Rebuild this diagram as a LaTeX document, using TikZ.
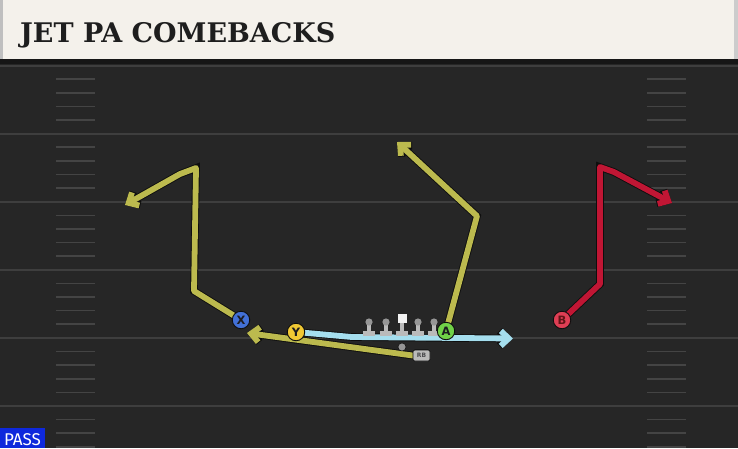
\documentclass[tikz,border=0pt]{standalone}
\usepackage{fontspec}
\newfontfamily\titlefont{DejaVu Serif Bold}
\newfontfamily\labelfont{DejaVu Sans}
\newfontfamily\passfont{Fira Sans}
\usetikzlibrary{arrows.meta}
\definecolor{field}{RGB}{38,38,38}
\definecolor{yardline}{RGB}{62,62,62}
\definecolor{hashc}{RGB}{68,68,68}
\definecolor{headerbg}{RGB}{244,241,235}
\definecolor{headerdark}{RGB}{22,22,22}
\definecolor{titlec}{RGB}{30,30,30}
\definecolor{olive}{RGB}{188,186,78}
\definecolor{routered}{RGB}{192,22,52}
\definecolor{motion}{RGB}{165,222,238}
\definecolor{outl}{RGB}{14,14,14}
\definecolor{xblue}{RGB}{66,112,214}
\definecolor{yyellow}{RGB}{240,200,52}
\definecolor{agreen}{RGB}{112,210,72}
\definecolor{bred}{RGB}{222,62,84}
\definecolor{linec}{RGB}{186,186,186}
\definecolor{headc}{RGB}{150,150,150}
\definecolor{passblue}{RGB}{14,40,220}
\definecolor{dark}{RGB}{28,28,32}
\tikzset{
  rt/.style={preaction={draw=outl, line width=7.6pt}, draw=#1, line width=5.8pt,
    line join=round, line cap=round, -{Straight Barb[length=8pt,width=15pt]}},
  player/.style={circle, draw=outl, line width=0.9pt, fill=#1, minimum size=17.5pt,
    inner sep=0pt, font=\labelfont\bfseries\fontsize{11.5}{11.5}\selectfont, text=dark},
  lineman/.style={fill=linec, draw=none},
  rbbadge/.style={fill=linec, draw=outl, line width=0.6pt, rounded corners=2pt, minimum width=17pt,
    minimum height=11pt, inner sep=0pt, font=\labelfont\bfseries\fontsize{6}{6}\selectfont, text=dark!80},
}
\begin{document}
\begin{tikzpicture}[x=1pt,y=-1pt]
\useasboundingbox (0,0) rectangle (738,448);
\clip (0,0) rectangle (738,448);
\fill[field] (0,0) rectangle (738,448);
% yard lines and hash marks
\foreach \k in {0,...,5}{
  \draw[yardline, line width=2pt] (0,{65.5+68.1*\k}) -- (738,{65.5+68.1*\k});
  \foreach \j in {1,...,4}{
    \draw[hashc, line width=1.6pt] (56,{65.5+68.1*\k+13.62*\j}) -- (95,{65.5+68.1*\k+13.62*\j});
    \draw[hashc, line width=1.6pt] (647,{65.5+68.1*\k+13.62*\j}) -- (686,{65.5+68.1*\k+13.62*\j});
  }
}
% header
\fill[headerbg] (0,0) rectangle (738,59);
\fill[black!25] (0,0) rectangle (3,59);
\fill[black!20] (734,0) rectangle (738,59);
\fill[headerdark] (0,59) rectangle (738,63.5);
\node[anchor=base west, inner sep=0pt, text=titlec,
  font=\titlefont\fontsize{27}{27}\selectfont] (title) at (20,42) {JET PA COMEBACKS};
% coordinates
\coordinate (x1) at (194,291);
\coordinate (x2) at (196,168);
\coordinate (x3) at (180,174);
\coordinate (x4) at (125,205);
\coordinate (a1) at (477,216);
\coordinate (a2) at (397,142);
\coordinate (b1) at (600,284);
\coordinate (b2) at (600,167);
\coordinate (b3) at (614,172);
\coordinate (b4) at (672,203);
\coordinate (m1) at (352,337);
\coordinate (m2) at (513,338.5);
\coordinate (rbend) at (247,333);
% players positions
\path (241,320) coordinate (Xp) (296,332) coordinate (Yp) (446,331) coordinate (Ap) (562,320) coordinate (Bp);
% RB badge
\node[rbbadge] (RB) at (421.5,355.5) {RB};
% routes
\draw[rt=olive] (RB.west) -- (rbend);
\draw[rt=motion] (Yp) -- (m1) -- (m2);
\draw[rt=olive] (Xp) -- (x1) -- (x2) -- (x3) -- (x4);
\draw[rt=olive] (Ap) -- (a1) -- (a2);
\draw[rt=routered] (Bp) -- (b1) -- (b2) -- (b3) -- (b4);
\node[rbbadge] at (RB) {RB};
\node[circle, fill=headc, draw=outl, line width=0.5pt, minimum size=8pt, inner sep=0pt] (QB) at (402,347) {};
% line
\foreach \x in {369,386,418,434}{
  \fill[lineman] (\x-6,331) rectangle (\x+6,335.5);
  \fill[lineman] (\x-1.6,323) rectangle (\x+1.6,331);
  \fill[headc] (\x,322) circle (3.6);
}
\fill[lineman] (396,331) rectangle (408,335.5);
\fill[lineman] (400.4,322) rectangle (403.6,331);
\fill[white!95!black] (397.5,314) rectangle (406.5,323);
% players
\node[player=xblue] (X) at (Xp) {X};
\node[player=yyellow] (Y) at (Yp) {Y};
\node[player=agreen] (A) at (Ap) {A};
\node[player=bred, text=dark!70!red] (B) at (Bp) {B};
% PASS badge
\fill[passblue] (0,428) rectangle (45,448);
\node[anchor=base, text=white, inner sep=0pt, font=\passfont\fontsize{17}{17}\selectfont] (pass) at (22.5,445) {PASS};
\end{tikzpicture}
\end{document}
